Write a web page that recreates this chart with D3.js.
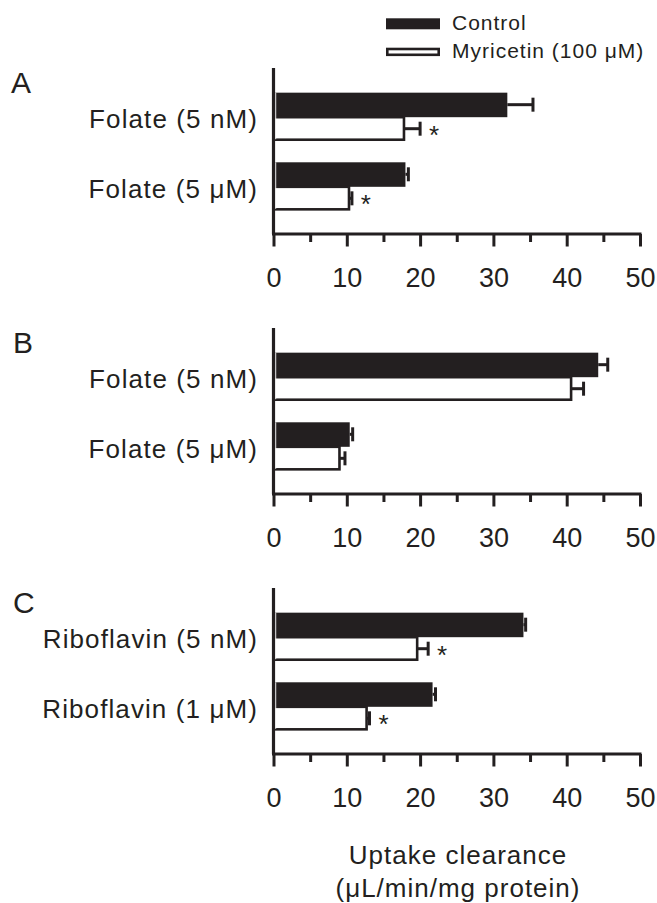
<!DOCTYPE html>
<html>
<head>
<meta charset="utf-8">
<script src="https://cdn.jsdelivr.net/npm/d3@7"></script>
<style>
  body { margin: 0; background: #fff; }
  svg text { font-family: "Liberation Sans", Arial, Helvetica, sans-serif; fill: #231f20; }
</style>
</head>
<body>
<div id="chart"></div>
<script>
////////////////////////////////////////////////////////////
// Data
////////////////////////////////////////////////////////////

const series_names = ['Control', 'Myricetin (100 \u03bcM)']
const panel_letters = ['A', 'B', 'C']

const categories_A = ['Folate (5 nM)', 'Folate (5 \u03bcM)']
const control_A = [31.9, 18.0]
const control_err_A = [3.5, 0.4]
const myricetin_A = [17.8, 10.3]
const myricetin_err_A = [2.2, 0.4]
const signif_A = [true, true]

const categories_B = ['Folate (5 nM)', 'Folate (5 \u03bcM)']
const control_B = [44.3, 10.4]
const control_err_B = [1.3, 0.4]
const myricetin_B = [40.6, 9.0]
const myricetin_err_B = [1.7, 0.75]
const signif_B = [false, false]

const categories_C = ['Riboflavin (5 nM)', 'Riboflavin (1 \u03bcM)']
const control_C = [34.1, 21.7]
const control_err_C = [0.3, 0.4]
const myricetin_C = [19.6, 12.7]
const myricetin_err_C = [1.5, 0.4]
const signif_C = [true, true]

const x_domain = [0, 50]
const tick_values = [0, 5, 10, 15, 20, 25, 30, 35, 40, 45, 50]
const tick_labels = ['0', '', '10', '', '20', '', '30', '', '40', '', '50']
const axis_title = ['Uptake clearance', '(\u03bcL/min/mg protein)']

////////////////////////////////////////////////////////////
// Layout
////////////////////////////////////////////////////////////

const W = 657
const H = 903
const dark = '#231f20'
const panel_axis_y = [234, 494, 754]
const plot_h = 165

const svg = d3.select('#chart')
  .append('svg')
  .attr('width', W)
  .attr('height', H)

const x = d3.scaleLinear()
  .domain(x_domain)
  .range([273.5, 640])

const panels = [
  { cats: categories_A, ctl: control_A, ctl_e: control_err_A, myr: myricetin_A, myr_e: myricetin_err_A, sig: signif_A },
  { cats: categories_B, ctl: control_B, ctl_e: control_err_B, myr: myricetin_B, myr_e: myricetin_err_B, sig: signif_B },
  { cats: categories_C, ctl: control_C, ctl_e: control_err_C, myr: myricetin_C, myr_e: myricetin_err_C, sig: signif_C }
]

panels.forEach((p, pi) => draw_panel(p, pi))

function draw_panel(p, pi) {

  let axis_y = panel_axis_y[pi]
  let top = axis_y - plot_h
  let g = svg.append('g').attr('class', 'panel-' + panel_letters[pi])

  // Category scale
  let y = d3.scaleBand()
    .domain(p.cats)
    .range([top, axis_y])
    .paddingInner(0.31)
    .paddingOuter(0.34)

  let y_sub = d3.scaleBand()
    .domain(series_names)
    .range([0, y.bandwidth()])

  let rows = p.cats.map((c, i) => ({
    cat: c,
    bars: [
      { s: series_names[0], v: p.ctl[i], e: p.ctl_e[i], sig: false },
      { s: series_names[1], v: p.myr[i], e: p.myr_e[i], sig: p.sig[i] }
    ]
  }))

  let group = g.selectAll('.grp')
    .data(rows)
    .enter()
    .append('g')
      .attr('class', 'grp')
      .attr('transform', d => `translate(0,${y(d.cat)})`)

  let bar = group.selectAll('.bar')
    .data(d => d.bars)
    .enter()
    .append('g')
      .attr('class', 'bar')

  // Error bars (behind bar)
  bar.append('line')
    .attr('x1', d => x(d.v))
    .attr('x2', d => x(d.v + d.e))
    .attr('y1', d => y_sub(d.s) + y_sub.bandwidth() / 2)
    .attr('y2', d => y_sub(d.s) + y_sub.bandwidth() / 2)
    .attr('stroke', dark)
    .attr('stroke-width', 3)

  bar.append('line')
    .attr('x1', d => x(d.v + d.e))
    .attr('x2', d => x(d.v + d.e))
    .attr('y1', d => y_sub(d.s) + y_sub.bandwidth() / 2 - 7)
    .attr('y2', d => y_sub(d.s) + y_sub.bandwidth() / 2 + 7)
    .attr('stroke', dark)
    .attr('stroke-width', 3)

  // Bars
  bar.append('rect')
    .attr('x', d => x(0))
    .attr('y', d => d.s === series_names[0] ? y_sub(d.s) : y_sub(d.s) + 0.5)
    .attr('width', d => x(d.v) - x(0))
    .attr('height', d => d.s === series_names[0] ? y_sub.bandwidth() + 0.5 : y_sub.bandwidth() - 1.5)
    .attr('fill', d => d.s === series_names[0] ? dark : '#fff')
    .attr('stroke', d => d.s === series_names[0] ? 'none' : dark)
    .attr('stroke-width', 2.6)

  // Asterisks
  bar.filter(d => d.sig)
    .append('text')
      .attr('x', d => x(d.v + d.e) + 14)
      .attr('y', d => y_sub(d.s) + y_sub.bandwidth() / 2 + 15)
      .attr('text-anchor', 'middle')
      .style('font-size', '26px')
      .text('*')

  // Thin white gap next to the axis
  group.append('line')
    .attr('x1', x(0) + 2.2)
    .attr('x2', x(0) + 2.2)
    .attr('y1', 0)
    .attr('y2', y.bandwidth() - 1.5)
    .attr('stroke', '#fff')
    .attr('stroke-width', 1)

  // Category labels
  group.append('text')
    .attr('x', 258)
    .attr('y', y.bandwidth() / 2 + 11.5)
    .attr('text-anchor', 'end')
    .style('font-size', '26px')
    .style('letter-spacing', '1.1px')
    .text(d => d.cat)

  // Y axis line
  g.append('line')
    .attr('x1', x(0))
    .attr('x2', x(0))
    .attr('y1', top - 1)
    .attr('y2', axis_y)
    .attr('stroke', dark)
    .attr('stroke-width', 3.2)

  // X axis
  let x_axis = d3.axisBottom(x)
    .tickValues(tick_values)
    .tickFormat((d, i) => tick_labels[i])
    .tickSizeInner(12)
    .tickSizeOuter(0)
    .tickPadding(22)

  let ax = g.append('g')
    .attr('transform', `translate(0,${axis_y})`)
    .call(x_axis)

  ax.select('.domain')
    .attr('stroke', dark)
    .attr('stroke-width', 3)
    .attr('d', `M${x(0) - 1.5},0H${x(50) + 1.5}`)

  ax.selectAll('.tick line')
    .attr('stroke', dark)
    .attr('stroke-width', 3)
    .attr('y2', (d, i) => tick_labels[i] === '' ? 8 : 12.5)

  ax.selectAll('.tick text')
    .attr('fill', dark)
    .style('font-family', '"Liberation Sans", Arial, sans-serif')
    .style('font-size', '27px')

  // Panel letter
  g.append('text')
    .attr('x', pi === 0 ? 11 : 13)
    .attr('y', axis_y - 141)
    .style('font-size', '30px')
    .style('letter-spacing', '1px')
    .text(panel_letters[pi])
}

////////////////////////////////////////////////////////////
// Axis title
////////////////////////////////////////////////////////////

svg.append('text')
  .attr('x', 458)
  .attr('text-anchor', 'middle')
  .style('font-size', '26px')
  .style('letter-spacing', '1px')
  .selectAll('tspan')
  .data(axis_title)
  .enter()
  .append('tspan')
    .attr('x', 458)
    .attr('y', (d, i) => 864 + i * 33)
    .text(d => d)

////////////////////////////////////////////////////////////
// Legend
////////////////////////////////////////////////////////////

let legend = svg.append('g').attr('class', 'legend')

legend.append('rect')
  .attr('x', 386).attr('y', 18.3)
  .attr('width', 54).attr('height', 11)
  .attr('fill', dark)

legend.append('rect')
  .attr('x', 387.3).attr('y', 49)
  .attr('width', 51.4).attr('height', 5.8)
  .attr('fill', '#fff')
  .attr('stroke', dark)
  .attr('stroke-width', 2.6)

legend.selectAll('.legend-label')
  .data(series_names)
  .enter()
  .append('text')
    .attr('class', 'legend-label')
    .attr('x', 452)
    .attr('y', (d, i) => 30 + i * 28)
    .style('font-size', '21px')
    .style('letter-spacing', '1px')
    .text(d => d)
</script>
</body>
</html>
